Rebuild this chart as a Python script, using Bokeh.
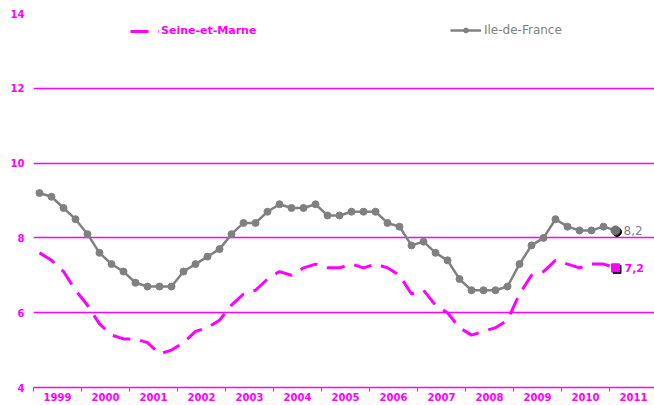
from bokeh.plotting import figure
from bokeh.models import Range1d, FixedTicker, Legend, LegendItem
from bokeh.embed import file_html
from bokeh.resources import INLINE
from bokeh.core.properties import value

# ---- data (quarterly unemployment rate, %) ----
years = list(range(1999, 2012))
quarters = ["T1", "T2", "T3", "T4"]

seine_et_marne = [
    7.6, 7.4, 7.1, 6.6,   # 1999
    6.2, 5.7, 5.4, 5.3,   # 2000
    5.3, 5.2, 4.9, 5.0,   # 2001
    5.2, 5.5, 5.6, 5.8,   # 2002
    6.2, 6.5, 6.6, 6.9,   # 2003
    7.1, 7.0, 7.2, 7.3,   # 2004
    7.2, 7.2, 7.3, 7.2,   # 2005
    7.3, 7.2, 7.0, 6.5,   # 2006
    6.6, 6.2, 6.0, 5.6,   # 2007
    5.4, 5.5, 5.6, 5.8,   # 2008
    6.5, 7.0, 7.1, 7.4,   # 2009
    7.3, 7.2, 7.3, 7.3,   # 2010
    7.2,                  # 2011
]
ile_de_france = [
    9.2, 9.1, 8.8, 8.5,
    8.1, 7.6, 7.3, 7.1,
    6.8, 6.7, 6.7, 6.7,
    7.1, 7.3, 7.5, 7.7,
    8.1, 8.4, 8.4, 8.7,
    8.9, 8.8, 8.8, 8.9,
    8.6, 8.6, 8.7, 8.7,
    8.7, 8.4, 8.3, 7.8,
    7.9, 7.6, 7.4, 6.9,
    6.6, 6.6, 6.6, 6.7,
    7.3, 7.8, 8.0, 8.5,
    8.3, 8.2, 8.2, 8.3,
    8.2,
]
series_names = ["Seine-et-Marne", "Ile-de-France"]
y_ticks = [4, 6, 8, 10, 12, 14]

MAGENTA = "#FF00FF"
GREY = "#808080"
FONT = "DejaVu Sans"

# quarter centres: year label sits on the integer, year spans year-0.5 .. year+0.5
n = len(ile_de_france)
xq = [years[0] - 0.5 + (i + 0.5) / len(quarters) for i in range(n)]

W, H = 654, 405
left_b, right_b, top_b, bottom_b = 33, 0, 13, 18
frame_w = W - left_b - right_b
frame_h = H - top_b - bottom_b
px_per_year = 48.0
x0 = years[0] - 0.5
x1 = x0 + frame_w / px_per_year
y0, y1 = y_ticks[0], y_ticks[-1]
px_per_unit = frame_h / (y1 - y0)

p = figure(width=W, height=H, output_backend="svg", toolbar_location=None,
           x_range=Range1d(x0, x1), y_range=Range1d(y0, y1),
           min_border_left=left_b, min_border_right=right_b,
           min_border_top=top_b, min_border_bottom=bottom_b,
           outline_line_color=None, background_fill_color="white",
           border_fill_color="white")

# axes
p.xaxis.ticker = FixedTicker(ticks=years, minor_ticks=[y - 0.5 for y in years] + [years[-1] + 0.5])
p.xaxis.axis_line_color = MAGENTA
p.xaxis.axis_line_width = 1.3
p.xaxis.major_tick_in = 0
p.xaxis.major_tick_out = 0
p.xaxis.minor_tick_in = 0
p.xaxis.minor_tick_out = 4
p.xaxis.minor_tick_line_color = MAGENTA
p.xaxis.major_label_text_color = MAGENTA
p.xaxis.major_label_text_font = FONT
p.xaxis.major_label_text_font_style = "bold"
p.xaxis.major_label_text_font_size = "10px"
p.xaxis.major_label_standoff = 1

p.yaxis.ticker = FixedTicker(ticks=y_ticks, minor_ticks=[])
p.yaxis.axis_line_color = None
p.yaxis.major_tick_line_color = None
p.yaxis.minor_tick_line_color = None
p.yaxis.major_tick_in = 0
p.yaxis.major_tick_out = 0
p.yaxis.major_label_text_color = MAGENTA
p.yaxis.major_label_text_font = FONT
p.yaxis.major_label_text_font_style = "bold"
p.yaxis.major_label_text_font_size = "10px"
p.yaxis.major_label_standoff = 9

p.xgrid.visible = False
p.ygrid.ticker = FixedTicker(ticks=y_ticks)
p.ygrid.grid_line_color = MAGENTA
p.ygrid.grid_line_width = 1.3

# series
sem_r = p.line(xq, seine_et_marne, line_color=MAGENTA, line_width=3, line_dash="18 10")
idf_l = p.line(xq, ile_de_france, line_color=GREY, line_width=2.5)
idf_s = p.scatter(xq, ile_de_france, marker="circle", size=7, fill_color=GREY, line_color=GREY)

# last values with drop shadow
dx = 1.5 / px_per_year
dy = 1.5 / px_per_unit
p.scatter([xq[-1] + dx], [ile_de_france[-1] - dy], marker="circle", size=9, fill_color="black", line_color="black")
p.scatter([xq[-1]], [ile_de_france[-1]], marker="circle", size=9, fill_color="#707070", line_color="#707070")
p.scatter([xq[-1] + dx], [seine_et_marne[-1] - dy], marker="square", size=8, fill_color="black", line_color="black")
p.scatter([xq[-1]], [seine_et_marne[-1]], marker="square", size=8, fill_color=MAGENTA, line_color=MAGENTA)


def fmt(v):
    return f"{v:.1f}".replace(".", ",")


p.text([xq[-1]], [ile_de_france[-1]], text=[fmt(ile_de_france[-1])], x_offset=8,
       text_baseline="middle", text_align="left", text_color=GREY,
       text_font=value(FONT), text_font_style="normal", text_font_size="12px")
p.text([xq[-1]], [seine_et_marne[-1]], text=[fmt(seine_et_marne[-1])], x_offset=9,
       text_baseline="middle", text_align="left", text_color=MAGENTA,
       text_font=value(FONT), text_font_style="bold", text_font_size="11px")

# legends
leg_y = frame_h - 24
leg1 = Legend(items=[LegendItem(label=series_names[0], renderers=[sem_r])],
              location=(97, leg_y), orientation="horizontal",
              glyph_width=29, glyph_height=12, label_height=12, label_standoff=2,
              padding=0, margin=0, spacing=0, border_line_color=None,
              background_fill_alpha=0, label_text_color=MAGENTA,
              label_text_font=FONT, label_text_font_style="bold",
              label_text_font_size="11px")
leg2 = Legend(items=[LegendItem(label=series_names[1], renderers=[idf_l, idf_s])],
              location=(417, leg_y), orientation="horizontal",
              glyph_width=31, glyph_height=12, label_height=12, label_standoff=3,
              padding=0, margin=0, spacing=0, border_line_color=None,
              background_fill_alpha=0, label_text_color=GREY,
              label_text_font=FONT, label_text_font_style="normal",
              label_text_font_size="12px")
p.add_layout(leg1)
p.add_layout(leg2)

open("out.html", "w").write(file_html(p, INLINE))
